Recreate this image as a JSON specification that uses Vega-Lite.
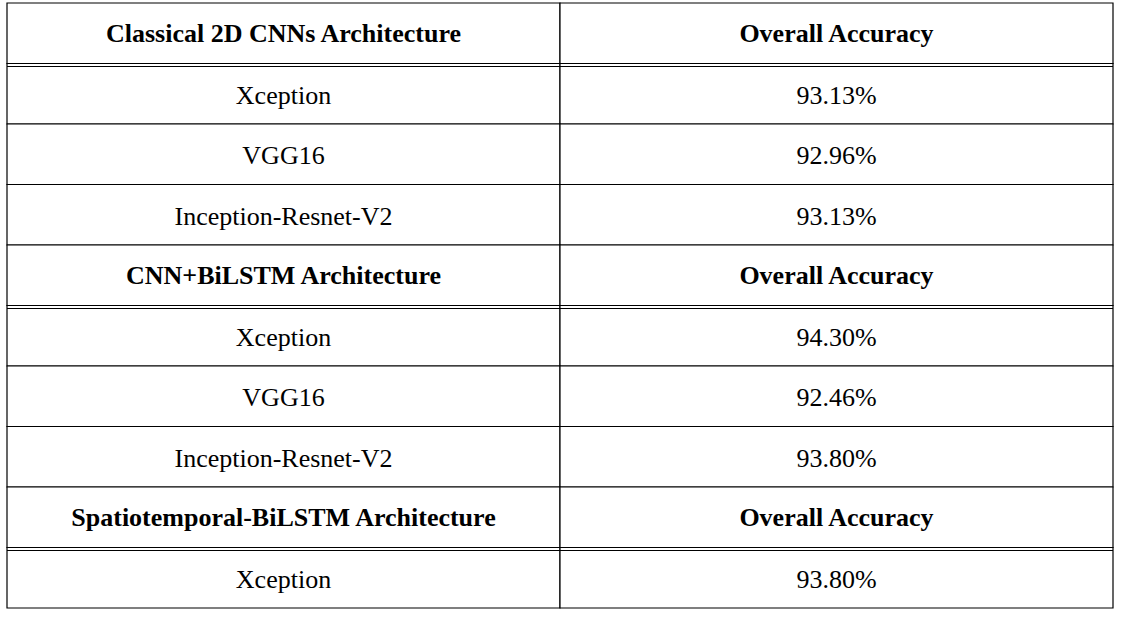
{
  "$schema": "https://vega.github.io/schema/vega-lite/v6.json",
  "width": 1106,
  "height": 605,
  "autosize": {"type": "none"},
  "padding": {"left": 7, "top": 3, "right": 8, "bottom": 10},
  "background": "white",
  "config": {"view": {"stroke": null}},
  "data": {
    "values": [
      {"row": 0, "col": "arch", "label": "Classical 2D CNNs Architecture", "kind": "header"},
      {"row": 0, "col": "acc", "label": "Overall Accuracy", "kind": "header"},
      {"row": 1, "col": "arch", "label": "Xception", "kind": "body"},
      {"row": 1, "col": "acc", "label": "93.13%", "kind": "body"},
      {"row": 2, "col": "arch", "label": "VGG16", "kind": "body"},
      {"row": 2, "col": "acc", "label": "92.96%", "kind": "body"},
      {"row": 3, "col": "arch", "label": "Inception-Resnet-V2", "kind": "body"},
      {"row": 3, "col": "acc", "label": "93.13%", "kind": "body"},
      {"row": 4, "col": "arch", "label": "CNN+BiLSTM Architecture", "kind": "header"},
      {"row": 4, "col": "acc", "label": "Overall Accuracy", "kind": "header"},
      {"row": 5, "col": "arch", "label": "Xception", "kind": "body"},
      {"row": 5, "col": "acc", "label": "94.30%", "kind": "body"},
      {"row": 6, "col": "arch", "label": "VGG16", "kind": "body"},
      {"row": 6, "col": "acc", "label": "92.46%", "kind": "body"},
      {"row": 7, "col": "arch", "label": "Inception-Resnet-V2", "kind": "body"},
      {"row": 7, "col": "acc", "label": "93.80%", "kind": "body"},
      {"row": 8, "col": "arch", "label": "Spatiotemporal-BiLSTM Architecture", "kind": "header"},
      {"row": 8, "col": "acc", "label": "Overall Accuracy", "kind": "header"},
      {"row": 9, "col": "arch", "label": "Xception", "kind": "body"},
      {"row": 9, "col": "acc", "label": "93.80%", "kind": "body"}
    ]
  },
  "layer": [
    {
      "mark": {"type": "rect", "fill": "white", "stroke": "black", "strokeWidth": 1.2},
      "encoding": {
        "x": {"field": "col", "type": "nominal", "scale": {"domain": ["arch", "acc"], "paddingInner": 0, "paddingOuter": 0}, "axis": null},
        "y": {"field": "row", "type": "ordinal", "scale": {"domain": [0,1,2,3,4,5,6,7,8,9], "paddingInner": 0, "paddingOuter": 0}, "axis": null}
      }
    },
    {
      "transform": [{"filter": "datum.kind === 'header' && datum.col === 'arch'"}],
      "mark": {"type": "rule", "stroke": "black", "strokeWidth": 1.2, "yOffset": 3},
      "encoding": {
        "y": {"field": "row", "type": "ordinal", "bandPosition": 1, "scale": {"domain": [0,1,2,3,4,5,6,7,8,9], "paddingInner": 0, "paddingOuter": 0}, "axis": null}
      }
    },
    {
      "transform": [{"filter": "datum.kind === 'header'"}],
      "mark": {"type": "text", "font": "'Liberation Serif', 'Times New Roman', 'DejaVu Serif', serif", "fontSize": 26, "fontWeight": "bold", "color": "black", "align": "center", "baseline": "middle", "dy": 1},
      "encoding": {
        "x": {"field": "col", "type": "nominal", "scale": {"domain": ["arch", "acc"], "paddingInner": 0, "paddingOuter": 0}, "axis": null},
        "y": {"field": "row", "type": "ordinal", "scale": {"domain": [0,1,2,3,4,5,6,7,8,9], "paddingInner": 0, "paddingOuter": 0}, "axis": null},
        "text": {"field": "label"}
      }
    },
    {
      "transform": [{"filter": "datum.kind === 'body'"}],
      "mark": {"type": "text", "font": "'Liberation Serif', 'Times New Roman', 'DejaVu Serif', serif", "fontSize": 26, "color": "black", "align": "center", "baseline": "middle", "dy": 2},
      "encoding": {
        "x": {"field": "col", "type": "nominal", "scale": {"domain": ["arch", "acc"], "paddingInner": 0, "paddingOuter": 0}, "axis": null},
        "y": {"field": "row", "type": "ordinal", "scale": {"domain": [0,1,2,3,4,5,6,7,8,9], "paddingInner": 0, "paddingOuter": 0}, "axis": null},
        "text": {"field": "label"}
      }
    }
  ]
}
